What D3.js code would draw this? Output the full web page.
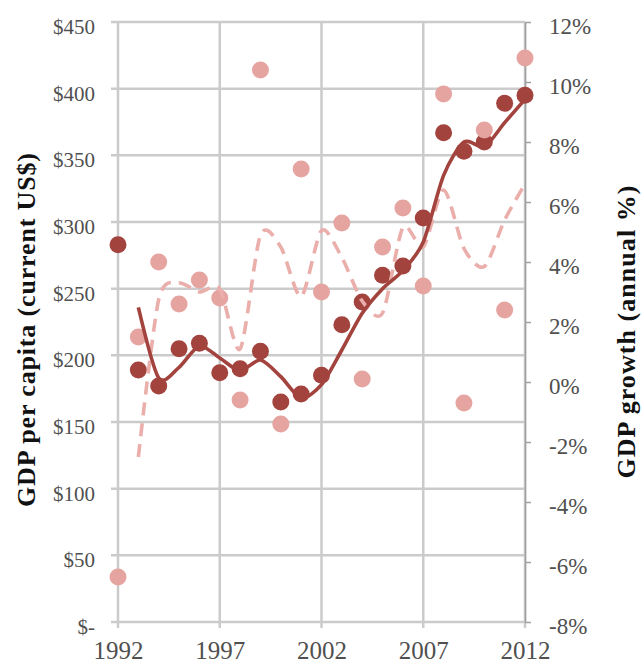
<!DOCTYPE html>
<html>
<head>
<meta charset="utf-8">
<script src="https://cdn.jsdelivr.net/npm/d3@7"></script>
<style>
  html, body { margin: 0; padding: 0; background: #fff; }
  svg { display: block; }
  text { font-family: "Liberation Serif", "Times New Roman", serif; }
</style>
</head>
<body>
<svg id="chart" width="641" height="667"></svg>
<script>
// ---- data ----
const years = [1992,1993,1994,1995,1996,1997,1998,1999,2000,2001,2002,2003,2004,2005,2006,2007,2008,2009,2010,2011,2012];
const gdpPerCapita = [283,189,177,205,209,187,190,203,165,171,185,223,240,260,267,303,367,353,360,389,395];
const gdpGrowth = [-6.5,1.5,4.0,2.6,3.4,2.8,-0.6,10.4,-1.4,7.1,3.0,5.3,0.1,4.5,5.8,3.2,9.6,-0.7,8.4,2.4,10.8];
// 2-period moving-average trendlines (1993-2012)
const trendYears = [1993,1994,1995,1996,1997,1998,1999,2000,2001,2002,2003,2004,2005,2006,2007,2008,2009,2010,2011,2012];
const gdpTrend = [236,183,191,207,198,188.5,196.5,184,168,178,204,231.5,250,263.5,285,335,360,356.5,374.5,392];
const growthTrend = [-2.5,2.75,3.3,3.0,3.1,1.1,4.9,4.5,2.85,5.05,4.15,2.7,2.3,5.15,4.5,6.4,4.45,3.85,5.4,6.6];
// tick labels
const xTicks = [1992,1997,2002,2007,2012];
const leftTicks = [0,50,100,150,200,250,300,350,400,450];
const rightTicks = [-8,-6,-4,-2,0,2,4,6,8,10,12];

const svg = d3.select("#chart");
const L = 118, R = 525, T = 22, B = 622;
const x = d3.scaleLinear().domain([1992, 2012]).range([L, R]);
const yL = d3.scaleLinear().domain([0, 450]).range([B, T]);
const yR = d3.scaleLinear().domain([-8, 12]).range([B, T]);

const gridColor = "#cbcbcb";
const labelColor = "#505050";
const dark = "#a3433e";
const pink = "#e6a4a1";

// horizontal gridlines (left axis)
svg.append("g").selectAll("line").data(leftTicks).join("line")
  .attr("x1", L - 7).attr("x2", R)
  .attr("y1", d => yL(d)).attr("y2", d => yL(d))
  .attr("stroke", gridColor).attr("stroke-width", 2.5);

// vertical gridlines
svg.append("g").selectAll("line").data(xTicks).join("line")
  .attr("x1", d => x(d)).attr("x2", d => x(d))
  .attr("y1", T).attr("y2", B + 6)
  .attr("stroke", gridColor).attr("stroke-width", 2.5);

// left axis labels
const leftAxis = d3.axisLeft(yL).tickValues(leftTicks)
  .tickSize(0).tickPadding(23)
  .tickFormat(d => d === 0 ? "$-" : "$" + d);
const gl = svg.append("g").attr("transform", `translate(${L},0)`).call(leftAxis);
gl.select(".domain").remove();
gl.selectAll("text").attr("font-size", 21).attr("fill", labelColor)
  .attr("font-family", "Liberation Serif").attr("dy", "0.55em");

// right axis
const rightAxis = d3.axisRight(yR).tickValues(rightTicks)
  .tickSizeInner(6).tickSizeOuter(0).tickPadding(18)
  .tickFormat(d => d + "%");
const gr = svg.append("g").attr("transform", `translate(${R},0)`).call(rightAxis);
gr.select(".domain").attr("stroke", "#a0a0a0").attr("stroke-width", 1.5);
gr.selectAll("line").attr("stroke", "#a0a0a0").attr("stroke-width", 1.5);
gr.selectAll("text").attr("font-size", 23).attr("fill", labelColor)
  .attr("font-family", "Liberation Serif").attr("dy", "0.5em");

// bottom axis labels
const bottomAxis = d3.axisBottom(x).tickValues(xTicks)
  .tickSize(0).tickPadding(24).tickFormat(d3.format("d"));
const gb = svg.append("g").attr("transform", `translate(0,${B})`).call(bottomAxis);
gb.select(".domain").remove();
gb.selectAll("text").attr("font-size", 25).attr("fill", labelColor)
  .attr("font-family", "Liberation Serif").attr("dy", "0.5em");

// dots: GDP per capita (dark)
svg.append("g").selectAll("circle").data(years).join("circle")
  .attr("cx", d => x(d)).attr("cy", (d, i) => yL(gdpPerCapita[i]))
  .attr("r", 8.5).attr("fill", dark);

// dots: GDP growth (pink)
svg.append("g").selectAll("circle").data(years).join("circle")
  .attr("cx", d => x(d)).attr("cy", (d, i) => yR(gdpGrowth[i]))
  .attr("r", 8.5).attr("fill", pink);

// trendlines
const lineR = d3.line().x(d => x(d[0])).y(d => yR(d[1])).curve(d3.curveCardinal.tension(0.2));
svg.append("path")
  .datum(trendYears.map((yr, i) => [yr, growthTrend[i]]))
  .attr("d", lineR).attr("fill", "none")
  .attr("stroke", "#eaaeab").attr("stroke-width", 3.6)
  .attr("stroke-dasharray", "13,8");

const lineL = d3.line().x(d => x(d[0])).y(d => yL(d[1])).curve(d3.curveCardinal.tension(0.2));
svg.append("path")
  .datum(trendYears.map((yr, i) => [yr, gdpTrend[i]]))
  .attr("d", lineL).attr("fill", "none")
  .attr("stroke", dark).attr("stroke-width", 3.6);

// axis titles
svg.append("text")
  .attr("transform", `translate(35,330) rotate(-90)`)
  .attr("text-anchor", "middle")
  .attr("font-size", 26).attr("font-weight", "bold").attr("fill", "#111")
  .attr("textLength", 354).attr("lengthAdjust", "spacing")
  .text("GDP per capita (current US$)");

svg.append("text")
  .attr("transform", `translate(635,332) rotate(-90)`)
  .attr("text-anchor", "middle")
  .attr("font-size", 26).attr("font-weight", "bold").attr("fill", "#111")
  .attr("textLength", 293).attr("lengthAdjust", "spacing")
  .text("GDP growth (annual %)");
</script>
</body>
</html>
